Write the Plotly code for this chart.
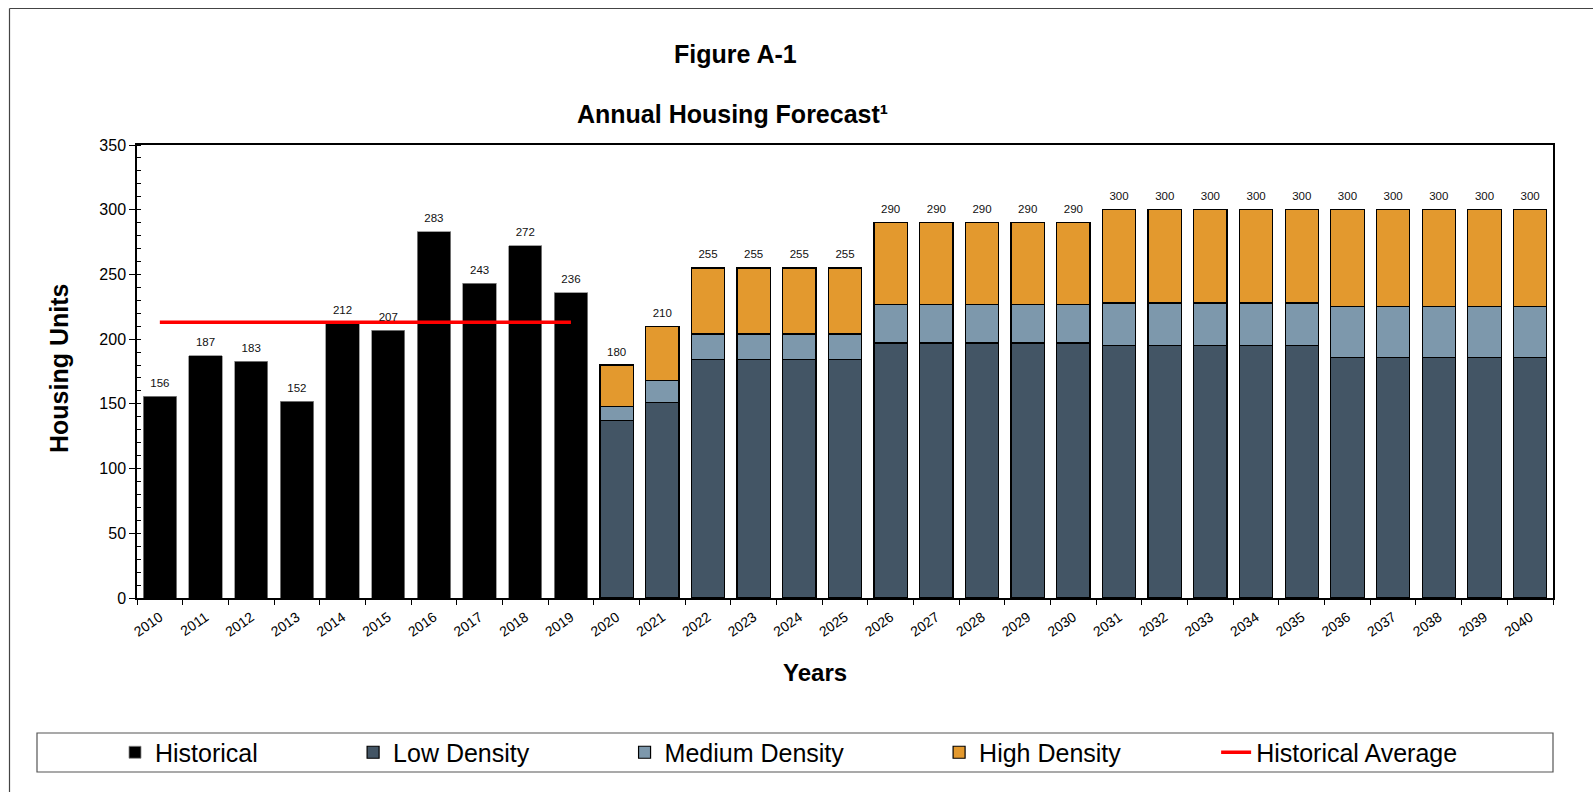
import plotly.graph_objects as go

years = [str(y) for y in range(2010, 2041)]
hist_years = years[:10]
fc_years = years[10:]

historical = [156, 187, 183, 152, 212, 207, 283, 243, 272, 236]
low_density = [137, 151, 184, 184, 184, 184, 197, 197, 197, 197, 197,
               195, 195, 195, 195, 195, 186, 186, 186, 186, 186]
medium_density = [11, 17, 20, 20, 20, 20, 30, 30, 30, 30, 30,
                  33, 33, 33, 33, 33, 39, 39, 39, 39, 39]
high_density = [32, 42, 51, 51, 51, 51, 63, 63, 63, 63, 63,
                72, 72, 72, 72, 72, 75, 75, 75, 75, 75]
hist_average = 213.1
y_ticks = [0, 50, 100, 150, 200, 250, 300, 350]

FONT = "Liberation Sans, Arial, sans-serif"
C_LOW = "#435565"
C_MED = "#7d98ac"
C_HIGH = "#e3992e"
PAD = "\u00a0" * 13

fig = go.Figure()
fig.add_trace(go.Bar(x=hist_years, y=historical, name="Historical" + PAD,
                     marker=dict(color="black", line=dict(color="#8a8a8a", width=0.8))))
fig.add_trace(go.Bar(x=fc_years, y=low_density, name="Low Density" + PAD,
                     marker=dict(color=C_LOW, line=dict(color="black", width=1.2))))
fig.add_trace(go.Bar(x=fc_years, y=medium_density, name="Medium Density" + PAD,
                     marker=dict(color=C_MED, line=dict(color="black", width=1.2))))
fig.add_trace(go.Bar(x=fc_years, y=high_density, name="High Density" + PAD,
                     marker=dict(color=C_HIGH, line=dict(color="black", width=1.2))))
fig.add_trace(go.Scatter(x=[hist_years[0], hist_years[-1]], y=[hist_average, hist_average],
                         mode="lines", name="Historical Average",
                         line=dict(color="#ff0000", width=3.5)))

totals = historical + [l + m + h for l, m, h in zip(low_density, medium_density, high_density)]
fig.add_trace(go.Scatter(x=years, y=totals, mode="markers+text", text=[str(t) for t in totals],
                         textposition="top center", showlegend=False, hoverinfo="skip",
                         marker=dict(size=9, opacity=0, color="white"),
                         textfont=dict(family=FONT, size=11.5, color="#111111")))

def px_x(px):
    return (px - 137) / 1416

def px_y(py):
    return (598 - py) / 453

def note(text, cx, cy, size, angle=0):
    return dict(x=px_x(cx), y=px_y(cy), xref="paper", yref="paper", text=text,
                xanchor="center", yanchor="middle", textangle=angle, showarrow=False,
                font=dict(family=FONT, size=size, color="black"))

annotations = [
    note("<b>Figure A-1</b>", 735.6, 54, 25),
    note("<b>Annual Housing Forecast\u00b9</b>", 732, 114, 25),
    note("<b>Years</b>", 815, 672.5, 24),
    note("<b>Housing Units</b>", 59, 369, 25, -90),
]

shapes = [
    dict(type="rect", xref="paper", yref="paper", x0=px_x(37), x1=px_x(1553),
         y0=px_y(772), y1=px_y(733), line=dict(color="#555555", width=1.2)),
    dict(type="line", xref="paper", yref="paper", x0=px_x(9.5), x1=px_x(1600),
         y0=px_y(8.5), y1=px_y(8.5), line=dict(color="#444444", width=1.2)),
    dict(type="line", xref="paper", yref="paper", x0=px_x(9.5), x1=px_x(9.5),
         y0=px_y(8.5), y1=px_y(800), line=dict(color="#444444", width=1.2)),
]

fig.update_layout(
    width=1593, height=792,
    margin=dict(l=137, r=40, t=145, b=194, autoexpand=False),
    barmode="stack", bargap=0.27,
    plot_bgcolor="white", paper_bgcolor="white",
    font=dict(family=FONT, color="black"),
    showlegend=True,
    legend=dict(orientation="h", x=px_x(115), xanchor="left", y=px_y(752.5), yanchor="middle",
                font=dict(family=FONT, size=25, color="black"), bgcolor="rgba(0,0,0,0)",
                borderwidth=0, traceorder="normal"),
    annotations=annotations,
    shapes=shapes,
)
fig.update_xaxes(type="category", categoryorder="array", categoryarray=years,
                 range=[-0.5, len(years) - 0.5],
                 tickson="boundaries", ticks="outside", ticklen=5, tickcolor="black",
                 tickangle=-35, ticklabelstandoff=4,
                 tickfont=dict(family=FONT, size=14, color="black"),
                 showline=True, linecolor="black", linewidth=1.5, mirror=True,
                 showgrid=False, automargin=False)
fig.update_yaxes(range=[0, 350], tickvals=y_ticks, ticks="outside", ticklen=6, tickcolor="black",
                 tickfont=dict(family=FONT, size=16, color="black"),
                 minor=dict(ticks="inside", dtick=10, ticklen=4, tickcolor="black", showgrid=False),
                 showline=True, linecolor="black", linewidth=1.5, mirror=True,
                 showgrid=False, zeroline=False, automargin=False)

fig.write_html("out.html")
